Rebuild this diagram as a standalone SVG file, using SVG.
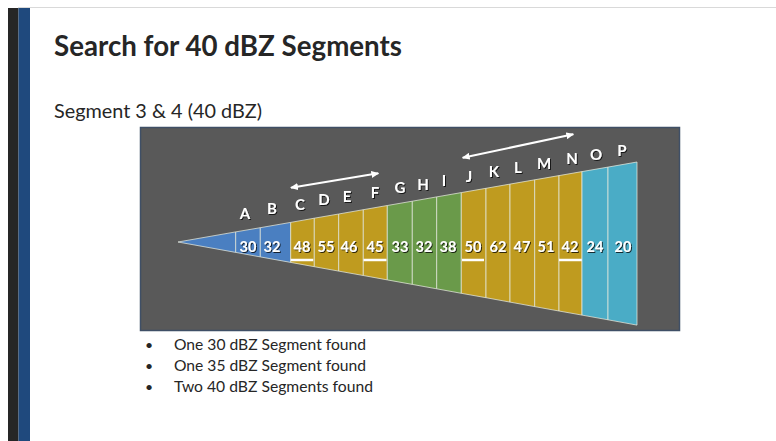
<svg xmlns="http://www.w3.org/2000/svg" width="776" height="441" viewBox="0 0 776 441">
<defs>
<style>
.title{font-family:Lato,"Open Sans","Liberation Sans",sans-serif;font-weight:700;font-size:28px;fill:#262626}
.sub{font-family:Lato,"Open Sans","Liberation Sans",sans-serif;font-size:20px;fill:#262626}
.bul{font-family:Lato,"Open Sans","Liberation Sans",sans-serif;font-size:15px;fill:#262626}
.dot{font-family:Lato,"Open Sans",sans-serif;font-size:14px;fill:#262626}
.cell{stroke:#e4e8dc;stroke-opacity:0.75;stroke-width:1}
.blue{fill:#4a7fc1}.gold{fill:#bf9b1f}.green{fill:#6a9a4a}.cyan{fill:#4aacc6}
.num{font-family:Lato,"Open Sans","Liberation Sans",sans-serif;font-weight:700;font-size:14.5px;fill:#ffffff;text-anchor:middle;filter:url(#sh)}
.let{font-family:Lato,"Open Sans","Liberation Sans",sans-serif;font-weight:700;font-size:15px;fill:#ffffff;text-anchor:middle;filter:url(#sh)}
.ul{stroke:#ffffff;stroke-width:2.5}
.arr{stroke:#ffffff;stroke-width:2;fill:none;marker-start:url(#ah);marker-end:url(#ah)}
</style>
<filter id="sh" x="-20%" y="-20%" width="150%" height="150%">
<feDropShadow dx="1" dy="1" stdDeviation="0.6" flood-color="#000000" flood-opacity="0.75"/>
</filter>
<marker id="ah" viewBox="0 0 8 7" refX="7" refY="3.5" markerWidth="8" markerHeight="7" markerUnits="userSpaceOnUse" orient="auto-start-reverse">
<path d="M0,0 L8,3.5 L0,7 z" fill="#ffffff"/>
</marker>
</defs>
<rect x="0" y="0" width="776" height="441" fill="#ffffff"/>
<line x1="18" y1="7.5" x2="776" y2="7.5" stroke="#d9d9d9" stroke-width="1"/>
<rect x="8" y="8" width="10.5" height="433" fill="#262626"/>
<rect x="18.5" y="8" width="11.5" height="433" fill="#1f497d"/>
<text class="title" x="54" y="56" textLength="348" lengthAdjust="spacingAndGlyphs">Search for 40 dBZ Segments</text>
<text class="sub" x="54" y="118" textLength="208" lengthAdjust="spacingAndGlyphs">Segment 3 &amp; 4 (40 dBZ)</text>
<rect id="panel" x="140.5" y="127.5" width="539" height="203" fill="#595959" stroke="#3f4f66" stroke-width="1.5"/>
<g id="tip"><polygon class="cell blue" points="178,242 235.7,231.9 235.7,252.4"/></g>
<g id="cell-A"><polygon class="cell blue" points="235.7,231.9 260.3,227.7 260.3,256.9 235.7,252.4"/><text class="num" x="248" y="252">30</text><text class="let" x="245" y="219">A</text></g>
<g id="cell-B"><polygon class="cell blue" points="260.3,227.7 290.7,222.4 290.7,262.4 260.3,256.9"/><text class="num" x="272" y="252">32</text><text class="let" x="272" y="214">B</text></g>
<g id="cell-C"><polygon class="cell gold" points="290.7,222.4 314.3,218.2 314.3,266.7 290.7,262.4"/><text class="num" x="302" y="252">48</text><line class="ul" x1="290.7" y1="260" x2="313.3" y2="260"/><text class="let" x="300" y="210">C</text></g>
<g id="cell-D"><polygon class="cell gold" points="314.3,218.2 338.7,214 338.7,271.1 314.3,266.7"/><text class="num" x="326" y="252">55</text><text class="let" x="324" y="205">D</text></g>
<g id="cell-E"><polygon class="cell gold" points="338.7,214 363.3,209.7 363.3,275.5 338.7,271.1"/><text class="num" x="349" y="252">46</text><text class="let" x="347" y="202">E</text></g>
<g id="cell-F"><polygon class="cell gold" points="363.3,209.7 387.3,205.5 387.3,279.9 363.3,275.5"/><text class="num" x="375" y="252">45</text><line class="ul" x1="363.5" y1="260" x2="386.5" y2="260"/><text class="let" x="375" y="198">F</text></g>
<g id="cell-G"><polygon class="cell green" points="387.3,205.5 412.3,201.2 412.3,284.4 387.3,279.9"/><text class="num" x="400" y="252">33</text><text class="let" x="400" y="193">G</text></g>
<g id="cell-H"><polygon class="cell green" points="412.3,201.2 436.7,196.9 436.7,288.8 412.3,284.4"/><text class="num" x="424" y="252">32</text><text class="let" x="423" y="190">H</text></g>
<g id="cell-I"><polygon class="cell green" points="436.7,196.9 461.3,192.6 461.3,293.3 436.7,288.8"/><text class="num" x="448" y="252">38</text><text class="let" x="444" y="186">I</text></g>
<g id="cell-J"><polygon class="cell gold" points="461.3,192.6 486,188.3 486,297.7 461.3,293.3"/><text class="num" x="473" y="252">50</text><line class="ul" x1="462" y1="260" x2="484" y2="260"/><text class="let" x="469" y="182">J</text></g>
<g id="cell-K"><polygon class="cell gold" points="486,188.3 510,184.1 510,302.1 486,297.7"/><text class="num" x="498" y="252">62</text><text class="let" x="494" y="177">K</text></g>
<g id="cell-L"><polygon class="cell gold" points="510,184.1 534.7,179.8 534.7,306.6 510,302.1"/><text class="num" x="522" y="252">47</text><text class="let" x="518" y="173">L</text></g>
<g id="cell-M"><polygon class="cell gold" points="534.7,179.8 559,175.6 559,311 534.7,306.6"/><text class="num" x="546" y="252">51</text><text class="let" x="544" y="169">M</text></g>
<g id="cell-N"><polygon class="cell gold" points="559,175.6 582,171.6 582,315.1 559,311"/><text class="num" x="570" y="252">42</text><line class="ul" x1="559" y1="260" x2="582" y2="260"/><text class="let" x="572" y="164">N</text></g>
<g id="cell-O"><polygon class="cell cyan" points="582,171.6 608,167.1 608,319.8 582,315.1"/><text class="num" x="595" y="252">24</text><text class="let" x="596" y="160">O</text></g>
<g id="cell-P"><polygon class="cell cyan" points="608,167.1 637,162 637,325.1 608,319.8"/><text class="num" x="623" y="252">20</text><text class="let" x="622" y="156">P</text></g>
<g id="connectors">
<line class="arr" x1="291" y1="187.7" x2="378.3" y2="173.3"/>
<line class="arr" x1="462.7" y1="157.7" x2="573.3" y2="134.3"/>
</g>
<g id="bullets">
<text class="dot" x="145" y="350">•</text><text class="bul" x="174" y="350" textLength="192" lengthAdjust="spacingAndGlyphs">One 30 dBZ Segment found</text>
<text class="dot" x="145" y="371">•</text><text class="bul" x="174" y="371" textLength="192" lengthAdjust="spacingAndGlyphs">One 35 dBZ Segment found</text>
<text class="dot" x="145" y="392">•</text><text class="bul" x="174" y="392" textLength="199" lengthAdjust="spacingAndGlyphs">Two 40 dBZ Segments found</text>
</g>
</svg>
